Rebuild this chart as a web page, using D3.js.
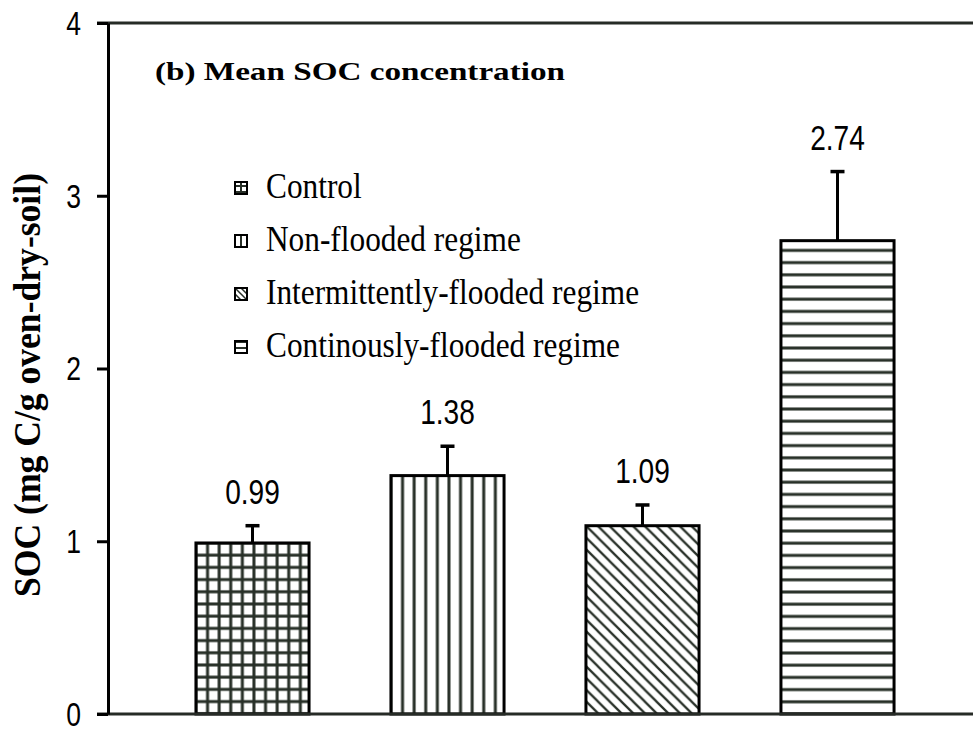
<!DOCTYPE html>
<html>
<head>
<meta charset="utf-8">
<script src="https://cdn.jsdelivr.net/npm/d3@7"></script>
<style>
  html, body { margin: 0; padding: 0; background: #fff; }
  svg { display: block; }
</style>
</head>
<body>
<svg id="chart" width="973" height="729"></svg>
<script>
// ---- data ----
const categories = ["Control", "Non-flooded regime", "Intermittently-flooded regime", "Continously-flooded regime"];
const meanSOC = [0.99, 1.38, 1.09, 2.74];
const errSOC = [0.10, 0.17, 0.12, 0.40];
const yTicks = [0, 1, 2, 3, 4];
const titleText = "(b) Mean SOC concentration";
const yLabel = "SOC (mg C/g oven-dry-soil)";

// ---- drawing ----
const svg = d3.select("#chart");
const W = 973, H = 729;
svg.append("rect").attr("width", W).attr("height", H).attr("fill", "#fff");

const y = d3.scaleLinear().domain([0, 4]).range([714, 23]);
const x = d3.scaleBand().domain(categories).range([155, 935]).paddingInner(0.42).paddingOuter(0.21);

const patColor = "#283028";
const kinds = ["grid", "vert", "diag", "horiz"];
const defs = svg.append("defs");

function makePattern(id, kind, px, py, sx, sy, sw) {
  const p = defs.append("pattern").attr("id", id)
    .attr("patternUnits", "userSpaceOnUse")
    .attr("x", px).attr("y", py).attr("width", sx).attr("height", sy);
  p.append("rect").attr("width", sx).attr("height", sy).attr("fill", "#fff");
  const g = p.append("g").attr("stroke", patColor).attr("stroke-width", sw).attr("fill", "none");
  if (kind === "grid" || kind === "vert") {
    g.append("line").attr("x1", 0).attr("x2", 0).attr("y1", 0).attr("y2", sy);
    g.append("line").attr("x1", sx).attr("x2", sx).attr("y1", 0).attr("y2", sy);
  }
  if (kind === "grid" || kind === "horiz") {
    g.append("line").attr("x1", 0).attr("x2", sx).attr("y1", 0).attr("y2", 0);
    g.append("line").attr("x1", 0).attr("x2", sx).attr("y1", sy).attr("y2", sy);
  }
  if (kind === "diag") {
    g.attr("stroke-width", sw * 0.75);
    g.append("path").attr("d", `M0,0L${sx},${sy}M${-sx/2},${sy/2}L${sx/2},${sy*1.5}M${sx/2},${-sy/2}L${sx*1.5},${sy/2}`);
  }
}

categories.forEach((c, i) => {
  const k = kinds[i];
  const bx = x(c), by = y(meanSOC[i]);
  const sx = k === "diag" ? 11.7 : 11.6;
  const sy = k === "diag" ? 11.7 : 12.2;
  makePattern("pat" + i, k, bx, k === "horiz" ? y(0) : by, sx, sy, 3);
  makePattern("leg" + i, k, 235, 0, 6, 6, 2);
});

// frame line (top)
svg.append("line").attr("x1", 97).attr("x2", W).attr("y1", y(4)).attr("y2", y(4))
  .attr("stroke", "#262b26").attr("stroke-width", 3);

// bars
const bars = svg.append("g");
categories.forEach((c, i) => {
  bars.append("rect")
    .attr("x", x(c)).attr("y", y(meanSOC[i]))
    .attr("width", x.bandwidth()).attr("height", y(0) - y(meanSOC[i]))
    .attr("fill", `url(#pat${i})`).attr("stroke", "#000").attr("stroke-width", 3);
});

// baseline
svg.append("line").attr("x1", 97).attr("x2", W).attr("y1", y(0)).attr("y2", y(0))
  .attr("stroke", "#262b26").attr("stroke-width", 3);

// error bars
const eb = svg.append("g").attr("stroke", "#000");
categories.forEach((c, i) => {
  const cx = x(c) + x.bandwidth() / 2;
  const top = y(meanSOC[i] + errSOC[i]);
  eb.append("line").attr("x1", cx).attr("x2", cx).attr("y1", y(meanSOC[i])).attr("y2", top).attr("stroke-width", 3);
  eb.append("line").attr("x1", cx - 7).attr("x2", cx + 7).attr("y1", top).attr("y2", top).attr("stroke-width", 3.5);
});

// data labels
const fmt = d3.format(".2f");
categories.forEach((c, i) => {
  const cx = x(c) + x.bandwidth() / 2;
  const top = y(meanSOC[i] + errSOC[i]);
  svg.append("text")
    .attr("transform", `translate(${cx},${top - 22}) scale(0.78,1)`)
    .attr("text-anchor", "middle")
    .attr("font-family", "Liberation Sans, Arial, sans-serif")
    .attr("font-size", 36)
    .attr("fill", "#000")
    .text(fmt(meanSOC[i]));
});

// y axis
const axis = d3.axisLeft(y).tickValues(yTicks).tickFormat(d3.format("d")).tickSize(11).tickSizeOuter(0).tickPadding(16);
const ag = svg.append("g").attr("transform", "translate(108,0)").call(axis);
ag.select(".domain").attr("stroke", "#000").attr("stroke-width", 3);
ag.selectAll(".tick line").attr("stroke", "#000").attr("stroke-width", 3);
ag.selectAll(".tick text")
  .attr("font-family", "Liberation Sans, Arial, sans-serif")
  .attr("font-size", 34)
  .attr("fill", "#000")
  .attr("dy", null)
  .attr("dominant-baseline", "central")
  .each(function () {
    const t = d3.select(this);
    const xx = +t.attr("x");
    t.attr("x", 0).attr("transform", `translate(${xx},-1) scale(0.78,1)`);
  });

// title
svg.append("text")
  .attr("x", 155).attr("y", 80)
  .attr("font-family", "Liberation Serif, Times New Roman, serif")
  .attr("font-weight", "bold")
  .attr("font-size", 26)
  .attr("textLength", 410)
  .attr("lengthAdjust", "spacingAndGlyphs")
  .attr("fill", "#000")
  .text(titleText);

// y label
svg.append("text")
  .attr("transform", "translate(40,385) rotate(-90)")
  .attr("text-anchor", "middle")
  .attr("font-family", "Liberation Serif, Times New Roman, serif")
  .attr("font-weight", "bold")
  .attr("font-size", 37)
  .attr("textLength", 424)
  .attr("lengthAdjust", "spacingAndGlyphs")
  .attr("fill", "#000")
  .text(yLabel);

// legend
const leg = svg.append("g");
categories.forEach((c, i) => {
  const base = 198 + i * 53;
  leg.append("rect").attr("x", 235).attr("y", base - 16).attr("width", 12).attr("height", 12)
    .attr("fill", `url(#leg${i})`).attr("stroke", "#000").attr("stroke-width", 2);
  leg.append("text")
    .attr("transform", `translate(266,${base}) scale(0.87,1)`)
    .attr("font-family", "Liberation Serif, Times New Roman, serif")
    .attr("font-size", 36)
    .attr("fill", "#000")
    .text(c);
});
</script>
</body>
</html>
